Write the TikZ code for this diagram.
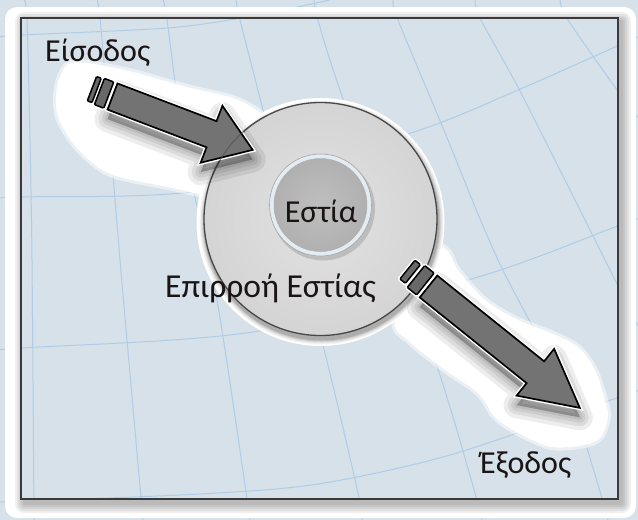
\documentclass[tikz,border=0pt]{standalone}
\usepackage{fontspec}
\setmainfont{Carlito}
\definecolor{bgc}{HTML}{D6E1E9}
\definecolor{gridc}{HTML}{B0CCE7}
\definecolor{framec}{HTML}{3A3A3A}
\definecolor{outl}{HTML}{E2E2E2}
\definecolor{outd}{HTML}{D4D4D4}
\definecolor{inc}{HTML}{BFBFBF}
\definecolor{ind}{HTML}{B0B0B0}
\definecolor{ringc}{HTML}{E3ECF3}
\definecolor{arrc}{HTML}{737373}
\definecolor{stripc}{HTML}{686868}
\definecolor{txtc}{HTML}{1A1414}

\newcommand\gridlines{%
  \draw[gridln] plot[smooth] coordinates {(24,0) (27,18) (30,140) (32,260) (34,520)};
  \draw[gridln] plot[smooth] coordinates {(93,0) (100,18) (120,260) (143,520)};
  \draw[gridln] plot[smooth] coordinates {(163,0) (167,20) (185,150) (217,300) (250,520)};
  \draw[gridln] plot[smooth] coordinates {(236,0) (240,20) (263,110) (325,353) (358,493) (362,520)};
  \draw[gridln] plot[smooth] coordinates {(314,0) (318,20) (341,93) (435,360) (475,493) (482,520)};
  \draw[gridln] plot[smooth] coordinates {(393,0) (398,20) (441,123) (498,260) (570,400) (608,520)};
  \draw[gridln] plot[smooth] coordinates {(475,0) (481,20) (521,93) (605,260) (640,330)};
  \draw[gridln] plot[smooth] coordinates {(560,0) (568,20) (615,87) (640,120)};
  \draw[gridln] plot[smooth] coordinates {(0,37) (21,35) (167,28) (247,17) (330,0)};
  \draw[gridln] plot[smooth] coordinates {(0,198) (21,197) (207,190) (411,133) (518,90) (615,47) (640,36)};
  \draw[gridln] plot[smooth] coordinates {(0,350) (21,348) (253,332) (478,277) (615,227) (640,218)};
  \draw[gridln] plot[smooth] coordinates {(0,502) (200,494) (318,484) (450,455) (611,400) (640,390)};
}
% block arrow path: shaft length, shaft half width, head half width, head length
\newcommand\bapath[4]{(0,-#2) -- (#1,-#2) -- (#1,-#3) -- ({#1+#4},0) -- (#1,#3) -- (#1,#2) -- (0,#2) -- cycle}

\begin{document}
\begin{tikzpicture}[x=1pt,y=-1pt,
  gridln/.style={draw=gridc,line width=1pt},
  lbl/.style={font=\fontsize{32}{36}\selectfont, text=txtc, inner sep=0pt},
  arrbody/.style={fill=arrc,draw=black,line width=1.7pt,line join=miter},
  arrhalo/.style={draw=white,line width=4.5pt,line join=miter},
  stripe/.style={fill=stripc,draw=black,line width=1.5pt,rounded corners=1pt},
  stripehalo/.style={draw=white,line width=4.5pt,rounded corners=1pt}]
\useasboundingbox (0,0) rectangle (638,520);
\fill[bgc] (0,0) rectangle (638,520);
\gridlines
% white card
\fill[white,rounded corners=12pt] (5,7) rectangle (636,518);
% shadow of the framed area
\foreach \s in {9,7,5,3,1}
  \fill[black,opacity=0.06,rounded corners=\s pt] ({24-\s},{21-\s}) rectangle ({622+\s},{504+\s});
\begin{scope}
  \clip (21,18) rectangle (618,499);
  \fill[bgc] (21,18) rectangle (618,499);
  \gridlines
\end{scope}

% halo behind the input arrow
\draw[white,opacity=0.5,line width=6pt] plot[smooth cycle] coordinates {(57,87) (67,65) (87,63) (133,72) (187,87) (230,97) (250,106) (262,118) (245,150) (212,192) (200,194) (173,188) (110,174) (77,148) (58,117)};
\fill[white] plot[smooth cycle] coordinates {(57,87) (67,65) (87,63) (133,72) (187,87) (230,97) (250,106) (262,118) (245,150) (212,192) (200,194) (173,188) (110,174) (77,148) (58,117)};
% halo behind the output arrow
\draw[white,opacity=0.5,line width=6pt] plot[smooth cycle] coordinates {(430,250) (447,250) (458,270) (485,300) (518,320) (551,333) (578,347) (595,370) (605,400) (608,417) (601,437) (585,445) (551,447) (518,433) (495,417) (478,393) (445,370) (411,343) (395,320)};
\fill[white] plot[smooth cycle] coordinates {(430,250) (447,250) (458,270) (485,300) (518,320) (551,333) (578,347) (595,370) (605,400) (608,417) (601,437) (585,445) (551,447) (518,433) (495,417) (478,393) (445,370) (411,343) (395,320)};

% outer circle (influence of focus)
\coordinate (cinf) at (320.5,219);
\fill[white] (320.5,222) circle (124pt);
\foreach \r/\o in {122/0.04,121/0.05,120/0.06,119/0.09,118/0.12}
  \fill[black,opacity=\o] (321.5,222.5) circle (\r pt);
\shade[inner color=outl,outer color=outd] (cinf) circle (116.5pt);
\draw[black!72,line width=1.3pt] (cinf) circle (116.5pt);

% inner circle (focus)
\coordinate (cfoc) at (320.5,205);
\fill[black,opacity=0.14] (323,208.5) circle (52pt);
\fill[ringc] (cfoc) circle (51pt);
\draw[black!35,line width=0.6pt] (cfoc) circle (51pt);
\shade[inner color=inc,outer color=ind] (cfoc) circle (46.5pt);
\draw[black!30,line width=0.5pt] (cfoc) circle (46.5pt);

% input arrow
\begin{scope}[shift={(112.5,106)},rotate=-20.85]
  \foreach \lw in {26,18,11,5}
    \filldraw[black,opacity=0.07,line width=\lw pt,line join=round] \bapath{106}{14}{30.5}{44};
\end{scope}
\begin{scope}[shift={(112.5,96.5)},rotate=-20.85]
  \draw[arrhalo] \bapath{106}{14}{30.5}{44};
  \draw[stripehalo] (-14,-14) rectangle (-4,14);
  \draw[stripehalo] (-22,-13) rectangle (-17,13);
  \filldraw[arrbody] \bapath{106}{14}{30.5}{44};
  \filldraw[stripe] (-14,-14) rectangle (-4,14);
  \filldraw[stripe] (-22,-13) rectangle (-17,13);
\end{scope}
\begin{scope}
  \clip (200,100) rectangle (265,170);
  \draw[black!70,opacity=0.55,line width=1.2pt] (cinf) circle (116.5pt);
\end{scope}

% output arrow
\begin{scope}[shift={(428.5,296)},rotate=-38.73]
  \foreach \lw in {26,18,11,5}
    \filldraw[black,opacity=0.07,line width=\lw pt,line join=round] \bapath{137}{14}{30}{57};
\end{scope}
\begin{scope}[shift={(428.5,286.5)},rotate=-38.73]
  \draw[arrhalo] \bapath{137}{14}{30}{57};
  \draw[stripehalo] (-16,-14) rectangle (-4,14);
  \draw[stripehalo] (-27,-12) rectangle (-20,12);
  \filldraw[arrbody] \bapath{137}{14}{30}{57};
  \filldraw[stripe] (-16,-14) rectangle (-4,14);
  \filldraw[stripe] (-27,-12) rectangle (-20,12);
\end{scope}

% labels
\node[lbl,anchor=base west] (inp) at (45,61) {Είσοδος};
\node[lbl,anchor=base] (foc) at (321,222) {Εστία};
\node[lbl,anchor=base west,font=\fontsize{33.5}{38}\selectfont] (infl) at (165,297) {Επιρροή Εστίας};
\node[lbl,anchor=base west] (outp) at (480,473) {Έξοδος};

% frame border
\draw[framec,line width=2pt] (21,18) rectangle (618,499);
\end{tikzpicture}
\end{document}
